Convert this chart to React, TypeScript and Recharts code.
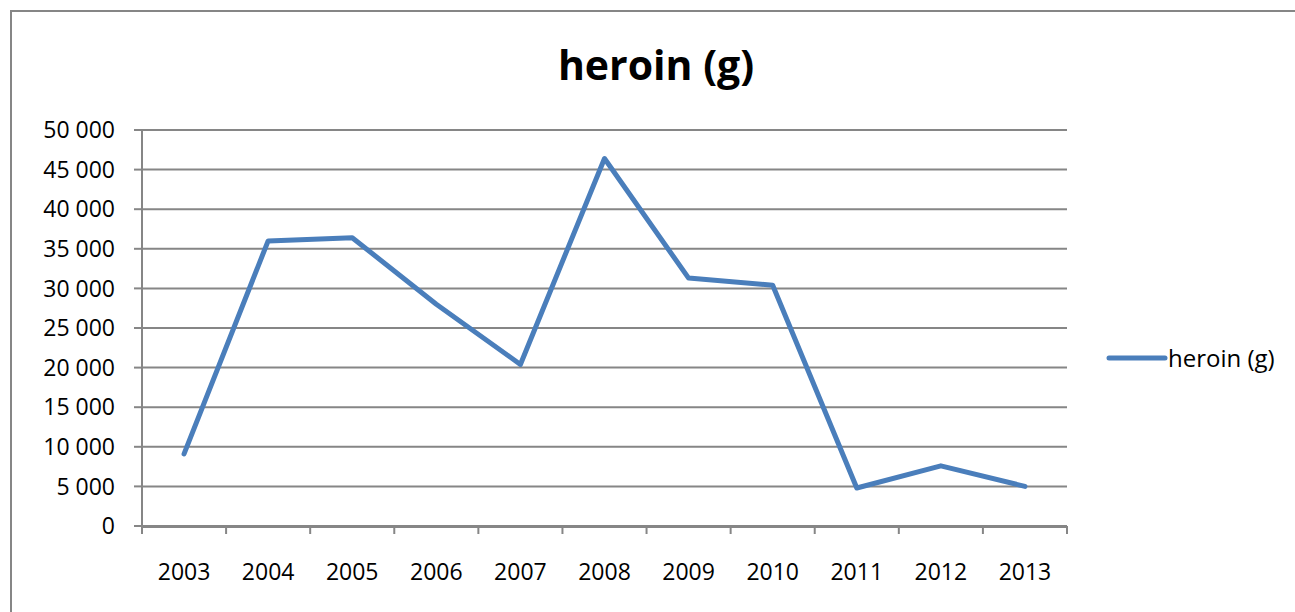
import { CartesianGrid, Line, LineChart, XAxis, YAxis } from "recharts";

const years = ["2003", "2004", "2005", "2006", "2007", "2008", "2009", "2010", "2011", "2012", "2013"];
const heroin = [9100, 36000, 36400, 28000, 20400, 46400, 31300, 30400, 4800, 7600, 5000];
const yTicks = [0, 5000, 10000, 15000, 20000, 25000, 30000, 35000, 40000, 45000, 50000];
const boundaryTicks = [0, 1, 2, 3, 4, 5, 6, 7, 8, 9, 10, 11];
const seriesName = "heroin (g)";

const data = years.map((year, i) => ({ year, heroin: heroin[i], slot: i }));

const grey = "#868686";
const blue = "#4a7ebb";
const font = "'Open Sans', sans-serif";

const fmt = (v: number) => String(v).replace(/\B(?=(\d{3})+(?!\d))/g, " ");

const App = () => {
  return (
    <div style={{ position: "absolute", left: 0, top: 0, width: 1295, height: 612, background: "#fff", overflow: "hidden" }}>
      <div
        style={{
          position: "absolute",
          left: 10,
          top: 10,
          width: 1290,
          height: 620,
          border: `2px solid ${grey}`,
          boxSizing: "border-box",
        }}
      />
      <div
        style={{
          position: "absolute",
          left: 10,
          width: 1292,
          top: 38,
          textAlign: "center",
          fontFamily: font,
          fontWeight: 700,
          fontSize: 41,
          lineHeight: "52px",
        }}
      >
        {seriesName}
      </div>
      <div
        style={{
          position: "absolute",
          left: 1104,
          top: 341,
          display: "flex",
          alignItems: "center",
          fontFamily: font,
          fontSize: 24,
          lineHeight: "34px",
        }}
      >
        <svg width={64} height={10}>
          <line x1={5} y1={5} x2={61} y2={5} stroke={blue} strokeWidth={5} strokeLinecap="round" />
        </svg>
        <span>{seriesName}</span>
      </div>
      <LineChart
        width={1295}
        height={612}
        data={data}
        margin={{ top: 130, right: 228, left: 0, bottom: 0 }}
        style={{ position: "absolute", left: 0, top: 0 }}
      >
        <CartesianGrid vertical={false} stroke={grey} strokeWidth={2} />
        {/* tick marks between categories, Excel style */}
        <XAxis
          xAxisId={0}
          dataKey="slot"
          type="number"
          domain={[0, 11]}
          ticks={boundaryTicks}
          axisLine={false}
          tickLine={{ stroke: grey, strokeWidth: 2 }}
          tickSize={8}
          tick={() => <g />}
          height={1}
          interval={0}
          allowDataOverflow
        />
        <XAxis
          xAxisId="years"
          dataKey="year"
          scale="band"
          axisLine={{ stroke: grey, strokeWidth: 2 }}
          tickLine={false}
          tick={{ fill: "#000", fontSize: 23, fontFamily: font }}
          tickMargin={31}
          height={85}
          interval={0}
        />
        <YAxis
          width={142}
          domain={[0, 50000]}
          ticks={yTicks}
          tickFormatter={fmt}
          axisLine={{ stroke: grey, strokeWidth: 2 }}
          tickLine={{ stroke: grey, strokeWidth: 2 }}
          tickSize={8}
          tickMargin={19}
          tick={{ fill: "#000", fontSize: 23, fontFamily: font }}
          interval={0}
        />
        <Line
          xAxisId="years"
          dataKey="heroin"
          name={seriesName}
          stroke={blue}
          strokeWidth={5}
          strokeLinecap="round"
          strokeLinejoin="round"
          dot={false}
          activeDot={false}
          isAnimationActive={false}
        />
      </LineChart>
    </div>
  );
};

export default App;
